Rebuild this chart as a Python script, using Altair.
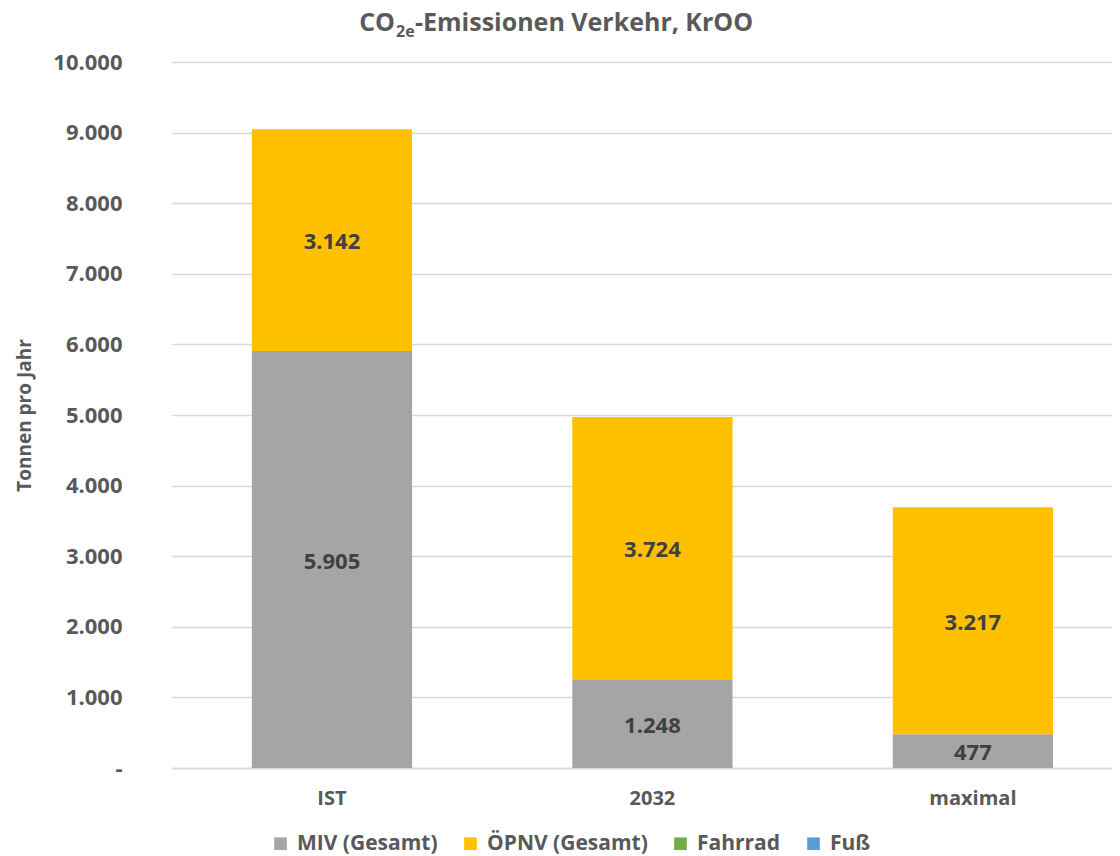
import altair as alt
import pandas as pd

categories = ["IST", "2032", "maximal"]
series = ["MIV (Gesamt)", "ÖPNV (Gesamt)", "Fahrrad", "Fuß"]
colors = ["#A5A5A5", "#FFC000", "#70AD47", "#5B9BD5"]
miv = [5905, 1248, 477]
oepnv = [3142, 3724, 3217]
fahrrad = [0, 0, 0]
fuss = [0, 0, 0]
y_ticks = [0, 1000, 2000, 3000, 4000, 5000, 6000, 7000, 8000, 9000, 10000]
title_main = ["CO", "-Emissionen Verkehr, KrOO"]
title_sub = "2e"

rows = []
for si, (name, vals) in enumerate(zip(series, [miv, oepnv, fahrrad, fuss])):
    for ci, cat in enumerate(categories):
        rows.append({"Kategorie": cat, "Serie": name, "Wert": vals[ci], "idx": si})
df = pd.DataFrame(rows)

FONT = "Open Sans"
GRAY = "#595959"

x_enc = alt.X(
    "Kategorie:N",
    sort=categories,
    scale=alt.Scale(paddingInner=0.5, paddingOuter=0.2166, align=0.575),
    axis=alt.Axis(
        title=None, labelAngle=0, ticks=False, domain=True, domainColor="#D9D9D9",
        domainWidth=1.5, labelPadding=20, labelFont=FONT, labelFontSize=20,
        labelFontWeight="bold", labelColor=GRAY,
    ),
)

base = alt.Chart(df)

bars = base.mark_bar().encode(
    x=x_enc,
    y=alt.Y(
        "Wert:Q",
        stack="zero",
        scale=alt.Scale(domain=[0, 10000], nice=False),
        axis=alt.Axis(
            values=y_ticks,
            labelExpr="datum.value == 0 ? '-' : replace(format(datum.value, ',.0f'), ',', '.')",
            grid=True, gridColor="#D9D9D9", gridWidth=1.5, domain=False, ticks=False,
            labelPadding=50, labelFont=FONT, labelFontSize=22, labelFontWeight="bold",
            labelColor=GRAY, title="Tonnen pro Jahr", titleFont=FONT, titleFontSize=19,
            titleFontWeight="bold", titleColor=GRAY, titleX=-138,
        ),
    ),
    color=alt.Color(
        "Serie:N",
        scale=alt.Scale(domain=series, range=colors),
        legend=alt.Legend(
            title=None, orient="none", direction="horizontal", legendX=98, legendY=771,
            symbolType="square", symbolSize=160, symbolStrokeWidth=0,
            labelFont=FONT, labelFontSize=21, labelFontWeight="bold", labelColor=GRAY,
            columnPadding=22, labelOffset=6, labelLimit=400,
        ),
    ),
    order=alt.Order("idx:Q"),
)

labels = (
    base.transform_stack(
        stack="Wert", groupby=["Kategorie"], as_=["y0", "y1"],
        sort=[alt.SortField("idx", order="ascending")],
    )
    .transform_filter("datum.Wert > 0")
    .transform_calculate(
        mid="(datum.y0 + datum.y1) / 2",
        txt="replace(format(datum.Wert, ',.0f'), ',', '.')",
    )
    .mark_text(font=FONT, fontSize=22, fontWeight="bold", color="#404040", baseline="middle", dy=2)
    .encode(x=x_enc, y=alt.Y("mid:Q"), text="txt:N")
)

one = pd.DataFrame({"k": [0]})
t_co = alt.Chart(one).mark_text(
    text=title_main[0], font=FONT, fontSize=25, fontWeight="bold", color=GRAY,
    align="right", baseline="alphabetic",
).encode(x=alt.value(223), y=alt.value(-31))
t_sub = alt.Chart(one).mark_text(
    text=title_sub, font=FONT, fontSize=16, fontWeight="bold", color=GRAY,
    align="left", baseline="alphabetic",
).encode(x=alt.value(224), y=alt.value(-25))
t_rest = alt.Chart(one).mark_text(
    text=title_main[1], font=FONT, fontSize=25, fontWeight="bold", color=GRAY,
    align="left", baseline="alphabetic",
).encode(x=alt.value(243), y=alt.value(-31))

chart = (
    alt.layer(bars, labels, t_co, t_sub, t_rest)
    .properties(
        width=940,
        height=706,
        autosize=alt.AutoSizeParams(type="none"),
        padding={"left": 164, "top": 54, "right": 0, "bottom": 88},
    )
    .configure_view(stroke=None)
)

chart.save("out.html", embed_options={"renderer": "svg", "actions": False})
